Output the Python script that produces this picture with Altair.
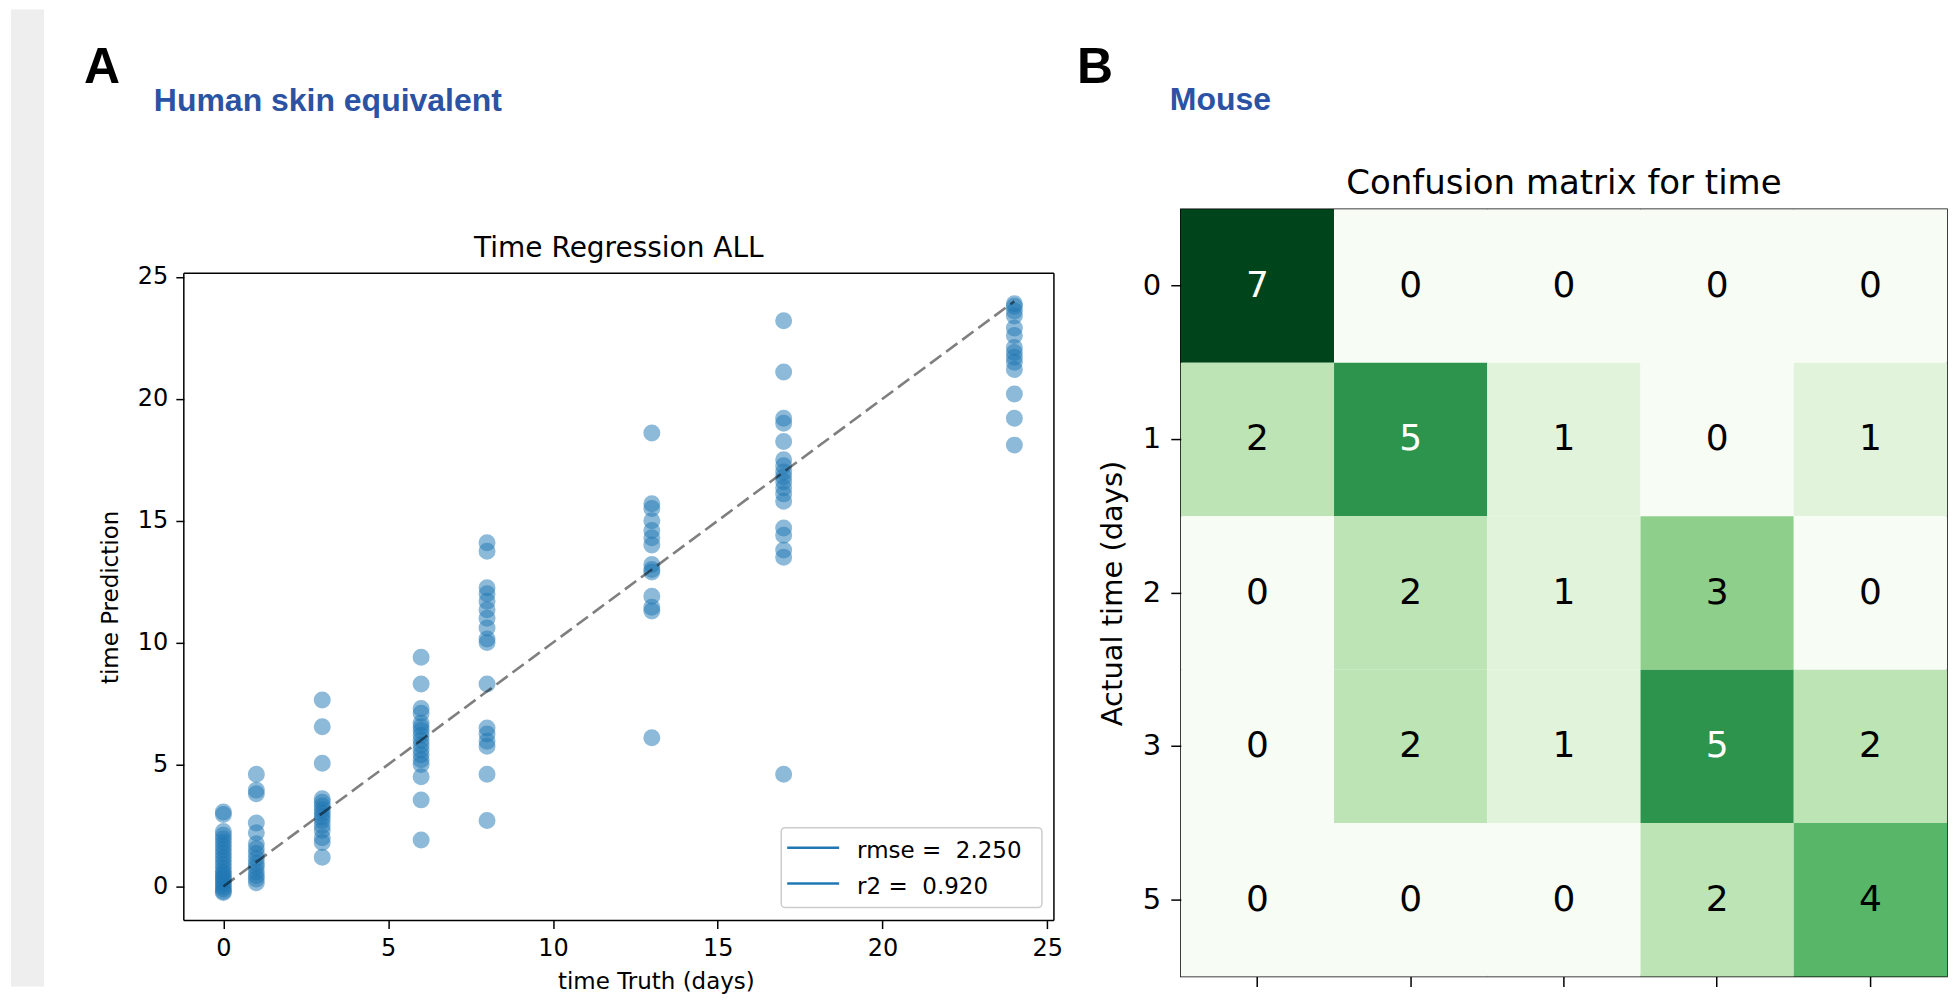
import altair as alt
import pandas as pd

# ---------------- data ----------------
truth_days = [0, 1, 3, 6, 8, 13, 17, 24]
pred_day0 = [3.05, 2.95, 2.25, 2.1, 1.95, 1.8, 1.65, 1.5, 1.35, 1.2, 1.05, 0.9, 0.75,
             0.6, 0.5, 0.4, 0.3, 0.2, 0.1, 0.0, -0.1, -0.2, -0.25]
pred_day1 = [4.6, 3.95, 3.8, 2.6, 2.2, 1.75, 1.55, 1.35, 1.15, 0.95, 0.8, 0.6, 0.45, 0.3, 0.15]
pred_day3 = [7.65, 6.55, 5.05, 3.6, 3.45, 3.3, 3.15, 3.0, 2.85, 2.7, 2.5, 2.3, 2.0, 1.8, 1.2]
pred_day6 = [9.4, 8.3, 7.3, 7.1, 6.7, 6.55, 6.4, 6.2, 6.0, 5.8, 5.6, 5.4, 5.2, 5.0, 4.5, 3.55, 1.9]
pred_day8 = [14.1, 13.75, 12.25, 12.0, 11.7, 11.35, 11.0, 10.6, 10.15, 10.0, 8.3, 6.5, 6.25,
             5.95, 5.75, 4.6, 2.7]
pred_day13 = [18.6, 15.7, 15.5, 15.0, 14.6, 14.3, 14.0, 13.2, 13.0, 12.9, 11.9, 11.45, 11.3, 6.1]
pred_day17 = [23.2, 21.1, 19.2, 19.0, 18.25, 17.5, 17.25, 17.0, 16.8, 16.6, 16.35, 16.1, 15.8,
              14.7, 14.4, 13.8, 13.5, 4.6]
pred_day24 = [23.9, 23.8, 23.6, 23.4, 22.9, 22.6, 22.1, 21.9, 21.7, 21.5, 21.2, 20.2, 19.2, 18.1]

diag_x = [0, 24]
diag_y = [0, 24]
legend_labels = ["rmse =\u00a0 2.250", "r2 =\u00a0 0.920"]
axis_ticks = [0, 5, 10, 15, 20, 25]

cm_classes = ["0", "1", "2", "3", "5"]
cm_values = [
    [7, 0, 0, 0, 0],
    [2, 5, 1, 0, 1],
    [0, 2, 1, 3, 0],
    [0, 2, 1, 5, 2],
    [0, 0, 0, 2, 4],
]

panel_letters = ["A", "B"]
panel_subtitles = ["Human skin equivalent", "Mouse"]
left_title = "Time Regression ALL"
right_title = "Confusion matrix for time"
x_title = "time Truth (days)"
y_title = "time Prediction"
cm_y_title = "Actual time (days)"

# ---------------- tables ----------------
pred_lists = [pred_day0, pred_day1, pred_day3, pred_day6, pred_day8,
              pred_day13, pred_day17, pred_day24]
rows = []
for t, preds in zip(truth_days, pred_lists):
    for p in preds:
        rows.append({"truth": t, "pred": p})
df_pts = pd.DataFrame(rows)
df_diag = pd.DataFrame({"truth": diag_x, "pred": diag_y})

cm_rows = []
for i, a in enumerate(cm_classes):
    for j, p in enumerate(cm_classes):
        cm_rows.append({"actual": a, "predicted": p, "value": cm_values[i][j]})
df_cm = pd.DataFrame(cm_rows)

one = pd.DataFrame({"k": [0]})

FONT = "DejaVu Sans"
LBL_FONT = "Liberation Sans"
BLUE_TXT = "#2C53A3"
PT_COLOR = "#1f77b4"

# ---------------- left panel ----------------
# the left plot group starts 64px above its frame, so both panels share one origin row
W1, H1 = 871, 712
TOP = 64
xs = alt.Scale(domain=[-1.2, 25.2], nice=False, zero=False)
ys = alt.Scale(domain=[-1.4, 27.772], nice=False, zero=False)

x_axis = alt.Axis(values=axis_ticks, title=x_title, grid=False, domain=False,
                  tickSize=8, tickWidth=1.5, tickColor="black",
                  labelFont=FONT, labelFontSize=24, labelColor="black", labelPadding=8,
                  labelFlush=False, labelOverlap=False,
                  titleFont=FONT, titleFontSize=23, titleFontWeight="normal", titleColor="black",
                  titleX=374, titleY=68, titleAlign="left", titleBaseline="alphabetic")
y_axis = alt.Axis(values=axis_ticks, title=y_title, grid=False, domain=False,
                  tickSize=8, tickWidth=1.5, tickColor="black",
                  labelFont=FONT, labelFontSize=24, labelColor="black", labelPadding=8,
                  labelFlush=False, labelOverlap=False,
                  titleFont=FONT, titleFontSize=23, titleFontWeight="normal", titleColor="black",
                  titleX=-73, titleY=TOP + (H1 - TOP) / 2, titleAngle=270, titleAlign="center",
                  titleBaseline="middle")

points = alt.Chart(df_pts).mark_circle(
    size=240, color=PT_COLOR, opacity=0.5, stroke=PT_COLOR, strokeWidth=1.5
).encode(
    x=alt.X("truth:Q", scale=xs, axis=x_axis),
    y=alt.Y("pred:Q", scale=ys, axis=y_axis),
)

diag = alt.Chart(df_diag).mark_line(
    color="black", opacity=0.5, strokeDash=[14, 6], strokeWidth=2.6
).encode(x="truth:Q", y="pred:Q")

frame_style = dict(color="black", strokeWidth=1.5)
f_top = alt.Chart(one).mark_rule(**frame_style).encode(
    x=alt.value(0), x2=alt.value(W1), y=alt.value(TOP))
f_bot = alt.Chart(one).mark_rule(**frame_style).encode(
    x=alt.value(0), x2=alt.value(W1), y=alt.value(H1))
f_left = alt.Chart(one).mark_rule(**frame_style).encode(
    x=alt.value(0), y=alt.value(TOP), y2=alt.value(H1))
f_right = alt.Chart(one).mark_rule(**frame_style).encode(
    x=alt.value(W1), y=alt.value(TOP), y2=alt.value(H1))

leg_box = alt.Chart(one).mark_rect(
    fill="white", fillOpacity=0.8, stroke="#cccccc", strokeWidth=1.5, cornerRadius=4
).encode(x=alt.value(598), x2=alt.value(859), y=alt.value(TOP + 555), y2=alt.value(TOP + 635))
leg_line1 = alt.Chart(one).mark_rule(color=PT_COLOR, strokeWidth=2.5).encode(
    x=alt.value(604), x2=alt.value(656), y=alt.value(TOP + 575))
leg_line2 = alt.Chart(one).mark_rule(color=PT_COLOR, strokeWidth=2.5).encode(
    x=alt.value(604), x2=alt.value(656), y=alt.value(TOP + 611))
leg_txt1 = alt.Chart(one).mark_text(
    text=legend_labels[0], font=FONT, fontSize=23, color="black", align="left",
    baseline="alphabetic").encode(x=alt.value(674), y=alt.value(TOP + 585))
leg_txt2 = alt.Chart(one).mark_text(
    text=legend_labels[1], font=FONT, fontSize=23, color="black", align="left",
    baseline="alphabetic").encode(x=alt.value(674), y=alt.value(TOP + 621))

l_title = alt.Chart(one).mark_text(
    text=left_title, font=FONT, fontSize=28, color="black", align="center",
    baseline="alphabetic").encode(x=alt.value(W1 / 2), y=alt.value(TOP - 16))
l_letter = alt.Chart(one).mark_text(
    text=panel_letters[0], font=LBL_FONT, fontSize=50, fontWeight="bold", color="black",
    align="left", baseline="alphabetic").encode(x=alt.value(-100), y=alt.value(TOP - 190))
l_sub = alt.Chart(one).mark_text(
    text=panel_subtitles[0], font=LBL_FONT, fontSize=32, fontWeight="bold", color=BLUE_TXT,
    align="left", baseline="alphabetic").encode(x=alt.value(-30), y=alt.value(TOP - 162))

strip = alt.Chart(one).mark_rect(color="#eeeeee").encode(
    x=alt.value(-173), x2=alt.value(-140), y=alt.value(-200), y2=alt.value(778))
l_bound = alt.Chart(one).mark_rect(opacity=0).encode(
    x=alt.value(880), x2=alt.value(885), y=alt.value(TOP), y2=alt.value(TOP + 5))

left = alt.layer(strip, l_bound, points, diag, f_top, f_bot, f_left, f_right,
                 leg_box, leg_line1, leg_line2, leg_txt1, leg_txt2,
                 l_title, l_letter, l_sub).properties(
    width=W1, height=H1, view=alt.ViewBackground(stroke="transparent"))

# ---------------- right panel ----------------
W2, H2 = 767, 768
greens = ["#f7fcf5", "#e1f3db", "#bce4b5", "#8ed08b", "#57b668", "#2c944c", "#057130", "#00441b"]

cx = alt.X("predicted:O", sort=cm_classes,
           scale=alt.Scale(paddingInner=0, paddingOuter=0),
           axis=alt.Axis(labels=False, title=None, domain=False, grid=False,
                         tickSize=10, tickWidth=1.5, tickColor="black"))
cy = alt.Y("actual:O", sort=cm_classes,
           scale=alt.Scale(paddingInner=0, paddingOuter=0),
           axis=alt.Axis(title=cm_y_title, domain=False, grid=False, labelAngle=0,
                         tickSize=10, tickWidth=1.5, tickColor="black",
                         labelFont=FONT, labelFontSize=29, labelColor="black", labelPadding=10,
                         titleFont=FONT, titleFontSize=29, titleFontWeight="normal",
                         titleColor="black", titleX=-68, titleY=H2 / 2, titleAngle=270,
                         titleAlign="center", titleBaseline="middle"))

cells = alt.Chart(df_cm).mark_rect().encode(
    x=cx, y=cy,
    color=alt.Color("value:Q", scale=alt.Scale(domain=list(range(8)), range=greens),
                    legend=None),
)
cell_txt = alt.Chart(df_cm).mark_text(font=FONT, fontSize=36, baseline="middle",
                                      align="center").encode(
    x=cx, y=cy,
    text="value:Q",
    color=alt.when(alt.datum.value >= 5).then(alt.value("white")).otherwise(alt.value("black")),
)

r_title = alt.Chart(one).mark_text(
    text=right_title, font=FONT, fontSize=34, color="black", align="center",
    baseline="alphabetic").encode(x=alt.value(W2 / 2), y=alt.value(-15))
r_letter = alt.Chart(one).mark_text(
    text=panel_letters[1], font=LBL_FONT, fontSize=50, fontWeight="bold", color="black",
    align="left", baseline="alphabetic").encode(x=alt.value(-104), y=alt.value(-126))
r_sub = alt.Chart(one).mark_text(
    text=panel_subtitles[1], font=LBL_FONT, fontSize=32, fontWeight="bold", color=BLUE_TXT,
    align="left", baseline="alphabetic").encode(x=alt.value(-11), y=alt.value(-99))
r_bound = alt.Chart(one).mark_rect(opacity=0).encode(
    x=alt.value(-107), x2=alt.value(-102), y=alt.value(-200), y2=alt.value(-195))

right = alt.layer(r_bound, cells, cell_txt, r_title, r_letter, r_sub).properties(
    width=W2, height=H2, view=alt.ViewBackground(stroke="black", strokeWidth=1.5))

chart = alt.hconcat(left, right, spacing=4).properties(
    padding={"left": 2, "top": 0, "right": 0, "bottom": 0},
    background="white",
)

chart.save("out.html", embed_options={"renderer": "svg", "actions": False})
